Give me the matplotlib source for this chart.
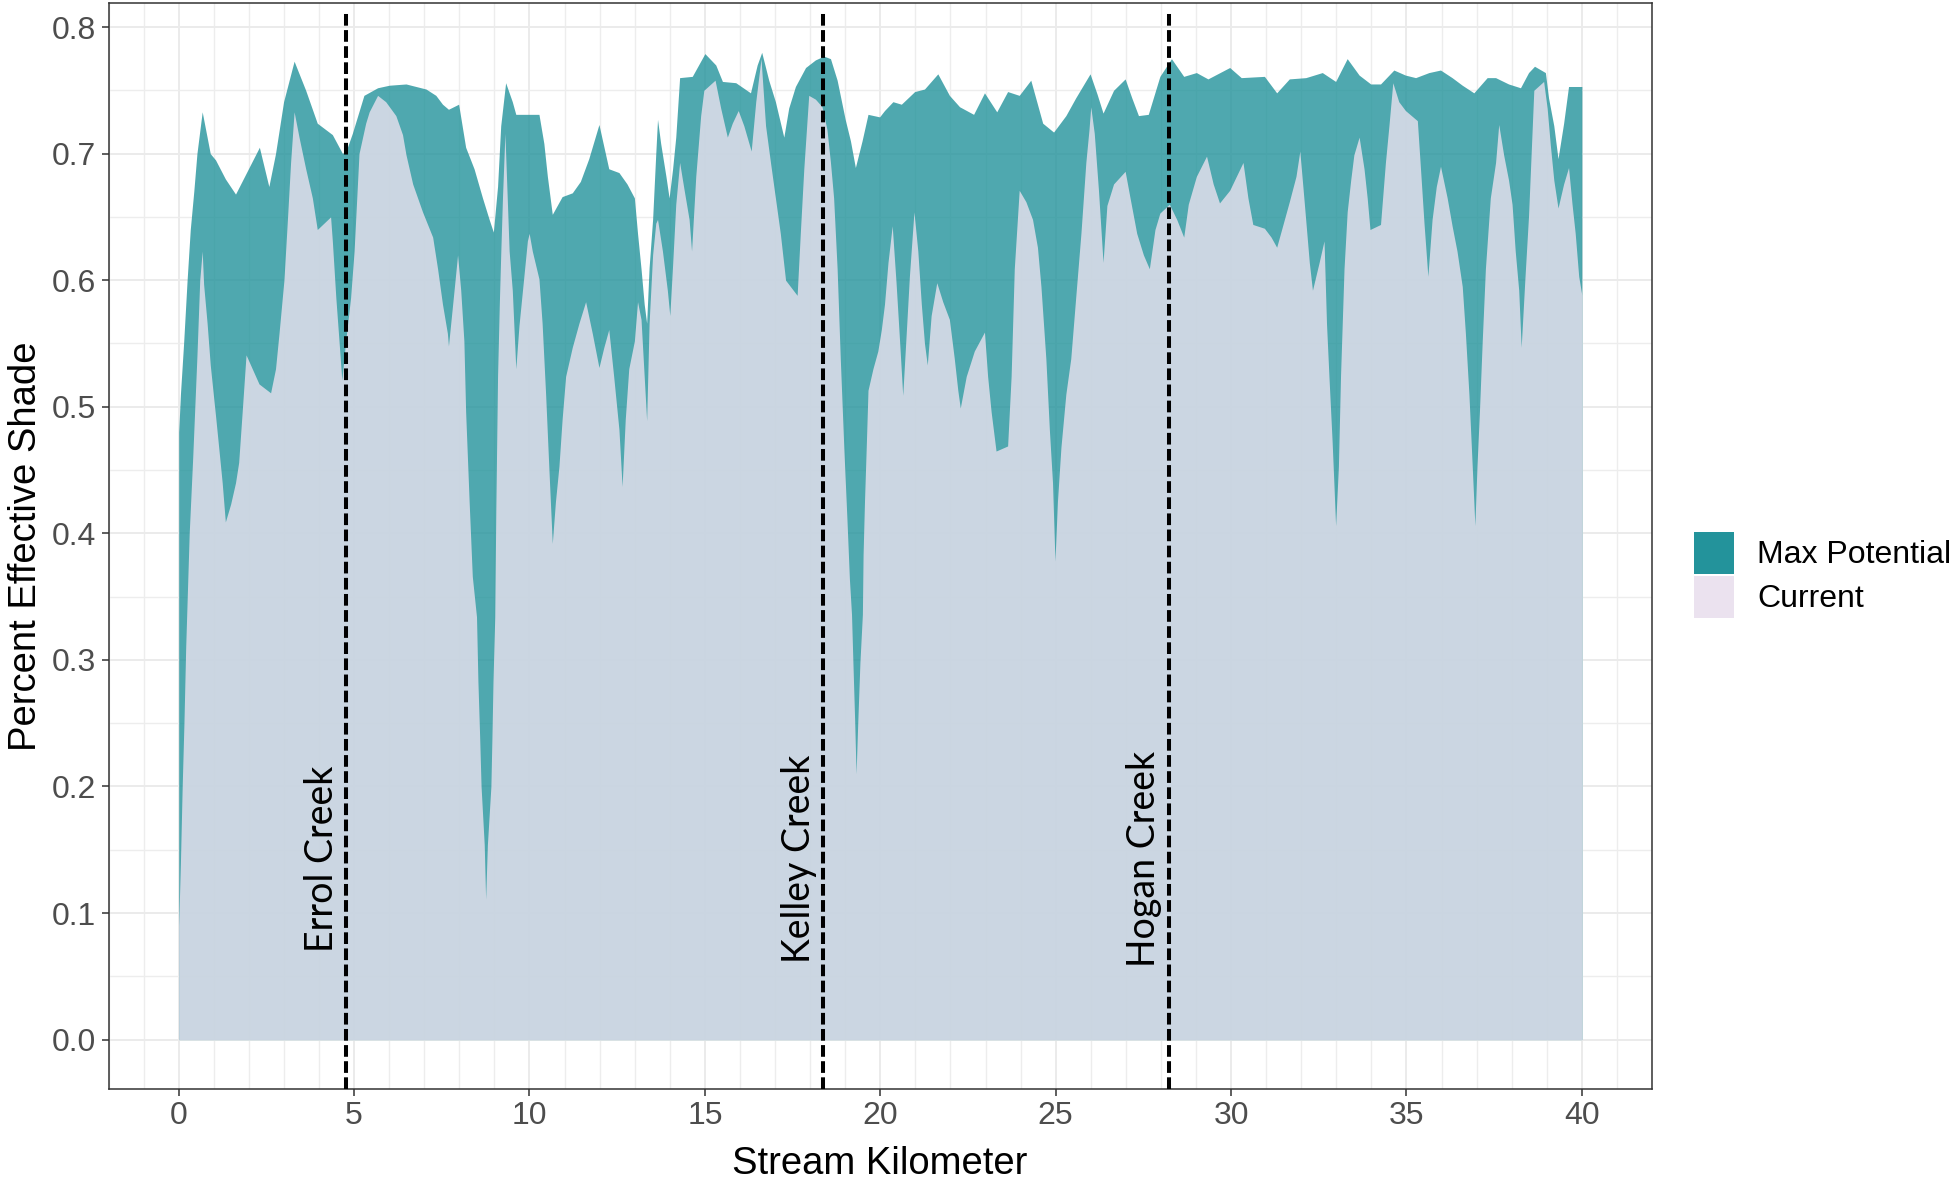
import numpy as np
import matplotlib
matplotlib.use("Agg")
import matplotlib.pyplot as plt
from matplotlib.patches import Patch
from matplotlib.ticker import FormatStrFormatter

# max potential effective shade along the stream
km_max = [0.00, 0.05, 0.14, 0.24, 0.33, 0.43, 0.52, 0.67, 0.90, 1.05, 1.33, 1.62,
          2.30, 2.57, 2.76, 2.99, 3.29, 3.62, 3.95, 4.38, 4.67, 4.81, 4.95, 5.28,
          5.67, 6.00, 6.48, 7.05, 7.33, 7.52, 7.69, 7.98, 8.18, 8.42, 8.66, 8.85,
          8.97, 9.09, 9.18, 9.32, 9.51, 9.61, 10.27, 10.41, 10.51, 10.65, 10.93,
          11.22, 11.45, 11.69, 11.98, 12.26, 12.55, 12.78, 12.99, 13.08, 13.18,
          13.27, 13.34, 13.41, 13.51, 13.60, 13.65, 13.74, 13.89, 13.98, 14.08,
          14.17, 14.28, 14.64, 15.00, 15.31, 15.50, 15.88, 16.30, 16.49, 16.62,
          16.82, 17.01, 17.25, 17.39, 17.58, 17.87, 18.15, 18.39, 18.58, 18.77,
          19.00, 19.15, 19.29, 19.48, 19.65, 19.98, 20.12, 20.36, 20.60, 20.98,
          21.26, 21.64, 21.97, 22.26, 22.66, 22.97, 23.32, 23.63, 23.96, 24.29,
          24.63, 24.94, 25.29, 25.57, 25.98, 26.18, 26.35, 26.65, 26.98, 27.17,
          27.36, 27.64, 27.97, 28.30, 28.65, 29.01, 29.34, 29.96, 30.29, 30.95,
          31.30, 31.66, 32.13, 32.60, 32.98, 33.31, 33.65, 33.98, 34.26, 34.64,
          34.97, 35.26, 35.64, 35.97, 36.30, 36.59, 36.92, 37.30, 37.54, 37.91,
          38.25, 38.48, 38.65, 38.96, 39.05, 39.20, 39.32, 39.48, 39.62, 40.00]
max_potential = [0.48, 0.51, 0.55, 0.60, 0.64, 0.67, 0.70, 0.733, 0.70, 0.695, 0.68, 0.668,
                 0.705, 0.674, 0.70, 0.741, 0.773, 0.75, 0.724, 0.715, 0.70, 0.705, 0.716, 0.746,
                 0.752, 0.754, 0.755, 0.751, 0.746, 0.739, 0.735, 0.739, 0.705, 0.688, 0.665, 0.648,
                 0.638, 0.674, 0.722, 0.756, 0.741, 0.731, 0.731, 0.708, 0.682, 0.652, 0.666,
                 0.669, 0.678, 0.696, 0.723, 0.688, 0.685, 0.676, 0.665, 0.637, 0.609,
                 0.581, 0.566, 0.61, 0.648, 0.70, 0.727, 0.708, 0.682, 0.665, 0.688,
                 0.713, 0.76, 0.761, 0.779, 0.77, 0.757, 0.756, 0.748, 0.77, 0.78,
                 0.758, 0.741, 0.713, 0.736, 0.753, 0.768, 0.774, 0.777, 0.775, 0.758,
                 0.727, 0.71, 0.689, 0.71, 0.731, 0.729, 0.734, 0.741, 0.739, 0.749,
                 0.751, 0.763, 0.746, 0.737, 0.731, 0.748, 0.733, 0.749, 0.746, 0.758,
                 0.724, 0.717, 0.73, 0.744, 0.763, 0.747, 0.732, 0.75, 0.759, 0.744,
                 0.73, 0.731, 0.761, 0.775, 0.761, 0.764, 0.759, 0.768, 0.76, 0.761,
                 0.748, 0.759, 0.76, 0.764, 0.757, 0.775, 0.762, 0.755, 0.755, 0.766,
                 0.762, 0.76, 0.764, 0.766, 0.76, 0.754, 0.748, 0.76, 0.76, 0.755,
                 0.752, 0.764, 0.769, 0.764, 0.744, 0.722, 0.696, 0.724, 0.753, 0.753]

# current effective shade
km_cur = [0.00, 0.05, 0.10, 0.15, 0.20, 0.30, 0.40, 0.52, 0.60, 0.67, 0.71, 0.81,
          0.90, 1.05, 1.14, 1.24, 1.33, 1.48, 1.62, 1.71, 1.81, 1.92, 2.29, 2.62,
          2.76, 2.86, 3.00, 3.10, 3.19, 3.29, 3.43, 3.62, 3.81, 3.95, 4.33, 4.38,
          4.48, 4.57, 4.65, 4.76, 4.90, 5.00, 5.14, 5.33, 5.43, 5.67, 5.90, 6.19,
          6.38, 6.48, 6.67, 6.95, 7.24, 7.38, 7.52, 7.66, 7.69, 7.85, 7.95, 8.04,
          8.13, 8.18, 8.28, 8.37, 8.49, 8.53, 8.58, 8.62, 8.71, 8.75, 8.80, 8.90,
          8.93, 8.96, 9.01, 9.04, 9.09, 9.14, 9.18, 9.23, 9.30, 9.42, 9.51, 9.61,
          9.70, 9.84, 9.94, 9.99, 10.08, 10.27, 10.36, 10.46, 10.55, 10.65, 10.74,
          10.84, 10.93, 11.03, 11.22, 11.41, 11.60, 11.79, 11.98, 12.12, 12.26,
          12.40, 12.55, 12.64, 12.73, 12.83, 12.99, 13.08, 13.18, 13.27, 13.34,
          13.41, 13.51, 13.60, 13.65, 13.79, 13.93, 14.00, 14.08, 14.17, 14.28,
          14.41, 14.55, 14.62, 14.74, 14.88, 14.97, 15.29, 15.45, 15.64, 15.78,
          15.95, 16.11, 16.32, 16.45, 16.60, 16.73, 16.87, 17.01, 17.15, 17.30,
          17.63, 17.72, 17.82, 17.96, 18.15, 18.34, 18.48, 18.58, 18.67, 18.77,
          18.86, 18.96, 19.05, 19.12, 19.18, 19.22, 19.27, 19.31, 19.36, 19.42,
          19.49, 19.51, 19.55, 19.60, 19.65, 19.79, 19.93, 20.03, 20.12, 20.22,
          20.34, 20.45, 20.55, 20.64, 20.74, 20.83, 20.96, 21.07, 21.17, 21.26,
          21.34, 21.45, 21.61, 21.78, 21.97, 22.11, 22.21, 22.28, 22.45, 22.68,
          22.97, 23.06, 23.16, 23.30, 23.63, 23.73, 23.82, 23.96, 24.15, 24.34,
          24.48, 24.58, 24.72, 24.82, 24.91, 24.98, 25.05, 25.15, 25.29, 25.43,
          25.57, 25.72, 25.86, 25.95, 26.00, 26.10, 26.22, 26.35, 26.46, 26.65,
          26.98, 27.12, 27.31, 27.50, 27.67, 27.83, 27.97, 28.24, 28.45, 28.65,
          28.78, 29.01, 29.30, 29.49, 29.67, 29.96, 30.34, 30.48, 30.62, 30.95,
          31.14, 31.30, 31.47, 31.66, 31.85, 31.96, 32.09, 32.23, 32.32, 32.51,
          32.65, 32.72, 32.79, 32.88, 32.93, 32.98, 33.06, 33.12, 33.22, 33.31,
          33.41, 33.50, 33.65, 33.79, 33.88, 33.96, 34.26, 34.40, 34.50, 34.61,
          34.78, 34.97, 35.31, 35.40, 35.50, 35.61, 35.73, 35.85, 35.97, 36.16,
          36.30, 36.44, 36.59, 36.68, 36.78, 36.85, 36.92, 36.95, 37.01, 37.08,
          37.16, 37.25, 37.39, 37.54, 37.63, 37.77, 37.91, 38.01, 38.10, 38.20,
          38.27, 38.38, 38.48, 38.63, 38.91, 39.01, 39.10, 39.20, 39.32, 39.48,
          39.62, 39.72, 39.81, 39.91, 40.00]
current = [0.09, 0.14, 0.20, 0.25, 0.31, 0.40, 0.46, 0.54, 0.60, 0.623, 0.597, 0.566,
           0.533, 0.493, 0.468, 0.44, 0.409, 0.423, 0.44, 0.456, 0.496, 0.541, 0.518, 0.511,
           0.53, 0.558, 0.60, 0.648, 0.693, 0.733, 0.713, 0.688, 0.665, 0.64, 0.65, 0.631,
           0.586, 0.552, 0.521, 0.552, 0.586, 0.623, 0.70, 0.724, 0.733, 0.746, 0.741, 0.73,
           0.715, 0.699, 0.676, 0.654, 0.634, 0.609, 0.581, 0.558, 0.548, 0.592, 0.62, 0.592,
           0.552, 0.496, 0.425, 0.366, 0.334, 0.283, 0.239, 0.20, 0.154, 0.111, 0.154, 0.20,
           0.239, 0.283, 0.334, 0.417, 0.524, 0.581, 0.62, 0.665, 0.716, 0.623, 0.592, 0.53,
           0.564, 0.603, 0.631, 0.637, 0.623, 0.601, 0.566, 0.51, 0.453, 0.392, 0.425,
           0.453, 0.49, 0.524, 0.547, 0.566, 0.583, 0.558, 0.531, 0.547, 0.561,
           0.524, 0.482, 0.437, 0.49, 0.53, 0.552, 0.583, 0.569, 0.524, 0.489,
           0.566, 0.62, 0.645, 0.648, 0.623, 0.592, 0.572, 0.612, 0.66, 0.693,
           0.671, 0.648, 0.623, 0.682, 0.73, 0.75, 0.758, 0.736, 0.713, 0.724,
           0.734, 0.722, 0.702, 0.741, 0.775, 0.722, 0.693, 0.665, 0.637, 0.60,
           0.588, 0.637, 0.688, 0.746, 0.743, 0.737, 0.719, 0.693, 0.665, 0.609,
           0.538, 0.468, 0.411, 0.364, 0.336, 0.298, 0.252, 0.21, 0.252, 0.298,
           0.336, 0.383, 0.425, 0.468, 0.513, 0.53, 0.544, 0.561, 0.581, 0.614,
           0.643, 0.598, 0.552, 0.509, 0.558, 0.603, 0.654, 0.623, 0.581, 0.55,
           0.533, 0.572, 0.598, 0.583, 0.569, 0.538, 0.513, 0.499, 0.524, 0.544,
           0.559, 0.524, 0.496, 0.465, 0.469, 0.524, 0.609, 0.671, 0.662, 0.648,
           0.626, 0.595, 0.538, 0.482, 0.44, 0.378, 0.425, 0.468, 0.51, 0.538,
           0.586, 0.637, 0.693, 0.719, 0.737, 0.716, 0.671, 0.614, 0.659, 0.676,
           0.686, 0.665, 0.637, 0.62, 0.609, 0.64, 0.653, 0.66, 0.648, 0.634,
           0.66, 0.682, 0.698, 0.676, 0.661, 0.671, 0.693, 0.665, 0.644, 0.641,
           0.634, 0.626, 0.643, 0.662, 0.682, 0.702, 0.66, 0.614, 0.592, 0.614,
           0.631, 0.566, 0.524, 0.473, 0.44, 0.406, 0.453, 0.524, 0.609, 0.654,
           0.679, 0.699, 0.713, 0.688, 0.665, 0.64, 0.644, 0.693, 0.722, 0.756,
           0.741, 0.734, 0.726, 0.688, 0.645, 0.603, 0.648, 0.674, 0.69, 0.665,
           0.643, 0.623, 0.595, 0.558, 0.51, 0.468, 0.425, 0.406, 0.453, 0.496,
           0.552, 0.609, 0.665, 0.693, 0.723, 0.699, 0.679, 0.66, 0.623, 0.592,
           0.547, 0.603, 0.651, 0.75, 0.757, 0.736, 0.707, 0.679, 0.657, 0.676,
           0.689, 0.66, 0.637, 0.603, 0.588]

creek_names = ["Errol Creek", "Kelley Creek", "Hogan Creek"]
creek_km = [4.78, 18.38, 28.23]

plt.rcParams['font.family'] = ['Liberation Sans', 'DejaVu Sans']

fig = plt.figure(figsize=(19.59, 11.82), dpi=100)
ax = fig.add_axes([0.0554, 0.0787, 0.7879, 0.9188])

km_cur = np.array(km_cur)
# keep the current curve under the max curve
cur = np.minimum(np.array(current), np.interp(km_cur, km_max, max_potential))

teal = '#23939B'
lilac = '#EBE2EF'
ax.fill_between(km_max, 0, max_potential, color=teal, alpha=0.8, lw=0, zorder=2)
ax.fill_between(km_cur, 0, cur, color=lilac, alpha=0.8, lw=0, zorder=3)

for name, k in zip(creek_names, creek_km):
    ax.axvline(k, ymin=0, ymax=0.993, color='black', lw=2.9,
               linestyle=(0, (2.9, 1.1)), zorder=4)
    ax.text(k - 0.7, 0.143, name, rotation=90, ha='center', va='center',
            fontsize=27, family=['Lato', 'DejaVu Sans'], zorder=5)

ax.set_xlim(-2, 42)
ax.set_ylim(-0.039, 0.819)
ax.set_xticks(np.arange(0, 41, 5))
ax.set_xticks(np.arange(-2, 43, 1), minor=True)
ax.set_yticks(np.arange(0, 0.81, 0.1))
ax.set_yticks(np.arange(0, 0.81, 0.05), minor=True)
ax.yaxis.set_major_formatter(FormatStrFormatter('%.1f'))
ax.grid(which='major', color='#EBEBEB', lw=1.4, zorder=0)
ax.grid(which='minor', color='#EDEDED', lw=1.0, zorder=0)
ax.set_axisbelow(True)
ax.tick_params(which='major', length=5, width=1.1, color='#333333', pad=4,
               labelsize=23, labelcolor='#4D4D4D')
ax.tick_params(which='minor', length=0)
for s in ax.spines.values():
    s.set_color('#333333')
    s.set_linewidth(1.1)

fig.text(880 / 1959, 0.0068, 'Stream Kilometer', ha='center', va='baseline', fontsize=27.5)
fig.text(8 / 1959, 0.538, 'Percent Effective Shade', rotation=90, ha='left', va='center',
         fontsize=27.5)

handles = [Patch(facecolor=teal, edgecolor='none'), Patch(facecolor=lilac, edgecolor='none')]
fig.legend(handles, ['Max Potential', 'Current'], loc='upper left',
           bbox_to_anchor=(1693.6 / 1959, 1 - 532 / 1182), frameon=False, fontsize=23,
           borderpad=0, borderaxespad=0, handlelength=1.28, handleheight=1.64,
           handletextpad=0.72, labelspacing=0.06)

fig.savefig('out.png', dpi=100)
